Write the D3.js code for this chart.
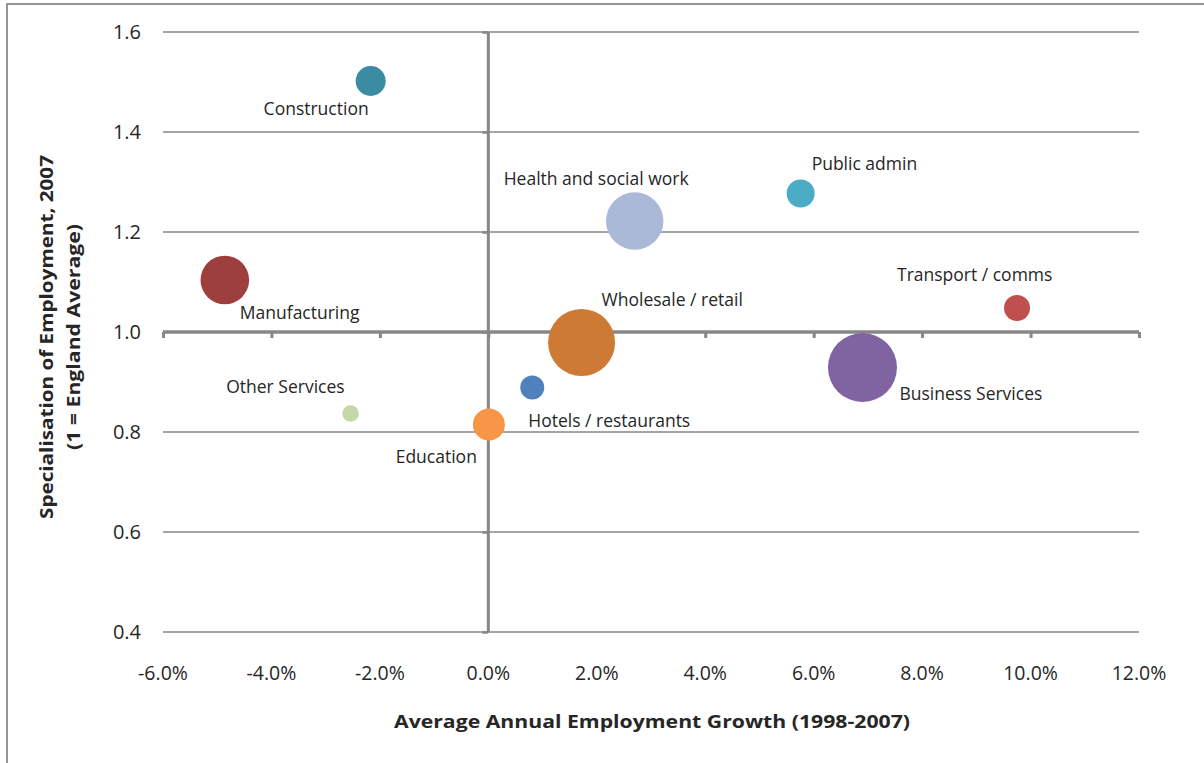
<!DOCTYPE html>
<html>
<head>
<meta charset="utf-8">
<script src="https://cdn.jsdelivr.net/npm/d3@7"></script>
<style>
  html, body { margin: 0; padding: 0; background: #fff; }
  svg { display: block; }
</style>
</head>
<body>
<svg id="chart" width="1204" height="763"></svg>
<script>
// ---- Data ----
const sectors = ["Construction", "Public admin", "Health and social work", "Manufacturing",
  "Transport / comms", "Wholesale / retail", "Business Services", "Hotels / restaurants",
  "Other Services", "Education"];
const growth = [-0.0217, 0.0576, 0.0270, -0.0486, 0.0975, 0.0172, 0.0690, 0.0081, -0.0254, 0.0001];
const specialisation = [1.502, 1.277, 1.222, 1.104, 1.048, 0.979, 0.929, 0.889, 0.837, 0.815];
const bubbleSize = [225, 196, 824, 590, 169, 1122, 1190, 144, 69, 256];
const colors = ["#3B8BA3", "#4BACC6", "#A9B9D7", "#9D403D", "#C0504D", "#CD7A36", "#8064A2", "#4F81BD", "#C4D7A7", "#F79646"];
const xTicks = [-0.06, -0.04, -0.02, 0, 0.02, 0.04, 0.06, 0.08, 0.10, 0.12];
const yTicks = [0.4, 0.6, 0.8, 1.0, 1.2, 1.4, 1.6];
// label placement relative to bubble centre: [dx, dy, anchor]
const labelPos = [[-2, 28, "end"], [11, -30, "start"], [-131, -42, "start"], [15, 33, "start"],
  [-120, -33, "start"], [20, -43, "start"], [37, 26, "start"], [-4, 33, "start"],
  [-6, -27, "end"], [-12, 32, "end"]];

const svg = d3.select("#chart");
const L = 163, R = 1139, T = 32, B = 632;
const x = d3.scaleLinear().domain([-0.06, 0.12]).range([L, R]);
const y = d3.scaleLinear().domain([0.4, 1.6]).range([B, T]);
const r = d3.scaleSqrt().domain([0, d3.max(bubbleSize)]).range([0, 34.5]);
const grey = "#878787";
const textCol = "#262626";

// outer border
svg.append("rect").attr("x", 7).attr("y", 4).attr("width", 1210).attr("height", 800)
  .attr("fill", "none").attr("stroke", "#8a8a8a").attr("stroke-width", 1.8);

// horizontal gridlines
svg.append("g").selectAll("line").data(yTicks.filter(d => d !== 1.0)).join("line")
  .attr("x1", L).attr("x2", R).attr("y1", d => y(d)).attr("y2", d => y(d))
  .attr("stroke", grey).attr("stroke-width", 1.5);

// y axis (at x = 0) with ticks
const yAxis = d3.axisLeft(y).tickValues(yTicks).tickSize(6).tickFormat("");
const gy = svg.append("g").attr("transform", `translate(${x(0)},0)`).call(yAxis);
gy.select(".domain").attr("stroke", grey).attr("stroke-width", 3).attr("d", `M0,${B}V${T}`);
gy.selectAll(".tick line").attr("stroke", grey).attr("stroke-width", 2.5);

// x axis (at y = 1.0) with ticks
const xAxis = d3.axisBottom(x).tickValues(xTicks).tickSize(6).tickFormat("");
const gx = svg.append("g").attr("transform", `translate(0,${y(1.0)})`).call(xAxis);
gx.select(".domain").attr("stroke", grey).attr("stroke-width", 3.5).attr("d", `M${L},0H${R}`);
gx.selectAll(".tick line").attr("stroke", grey).attr("stroke-width", 3);

// y tick labels
svg.append("g").selectAll("text").data(yTicks).join("text")
  .attr("x", 141).attr("y", d => y(d)).attr("dy", "0.35em")
  .attr("text-anchor", "end").attr("fill", textCol)
  .style("font-family", "'Open Sans', sans-serif").style("font-size", "20px")
  .text(d => d.toFixed(1));

// x tick labels
svg.append("g").selectAll("text").data(xTicks).join("text")
  .attr("x", d => x(d)).attr("y", 673).attr("dy", "0.35em")
  .attr("text-anchor", "middle").attr("fill", textCol)
  .style("font-family", "'Liberation Sans Narrow', 'Open Sans', sans-serif").style("font-size", "19.5px")
  .text(d => d3.format(".1%")(d).replace("\u2212", "-"));

// axis titles
svg.append("text").attr("x", 652).attr("y", 722).attr("dy", "0.35em")
  .attr("text-anchor", "middle").attr("fill", textCol)
  .attr("textLength", 516).attr("lengthAdjust", "spacingAndGlyphs")
  .style("font-family", "'Open Sans', sans-serif").style("font-weight", "bold").style("font-size", "17.5px")
  .text("Average Annual Employment Growth (1998-2007)");

const yt = svg.append("g").attr("transform", "translate(0,337) rotate(-90)");
yt.append("text").attr("x", 0).attr("y", 47).attr("dy", "0.35em")
  .attr("text-anchor", "middle").attr("fill", textCol)
  .attr("textLength", 364).attr("lengthAdjust", "spacingAndGlyphs")
  .style("font-family", "'Open Sans', sans-serif").style("font-weight", "bold").style("font-size", "17.5px")
  .text("Specialisation  of  Employment, 2007");
yt.append("text").attr("x", 0).attr("y", 74).attr("dy", "0.35em")
  .attr("text-anchor", "middle").attr("fill", textCol)
  .attr("textLength", 226).attr("lengthAdjust", "spacingAndGlyphs")
  .style("font-family", "'Open Sans', sans-serif").style("font-weight", "bold").style("font-size", "17.5px")
  .text("(1 = England  Average)");

// bubbles
const data = sectors.map((s, i) => ({ s, gx: growth[i], sp: specialisation[i], size: bubbleSize[i], c: colors[i], lp: labelPos[i] }));
svg.append("g").selectAll("circle").data(data).join("circle")
  .attr("cx", d => x(d.gx)).attr("cy", d => y(d.sp)).attr("r", d => r(d.size))
  .attr("fill", d => d.c);

// labels
svg.append("g").selectAll("text").data(data).join("text")
  .attr("x", d => x(d.gx) + d.lp[0]).attr("y", d => y(d.sp) + d.lp[1]).attr("dy", "0.35em")
  .attr("text-anchor", d => d.lp[2]).attr("fill", textCol)
  .style("font-family", "'Open Sans', sans-serif").style("font-size", "17.5px")
  .text(d => d.s);
</script>
</body>
</html>
